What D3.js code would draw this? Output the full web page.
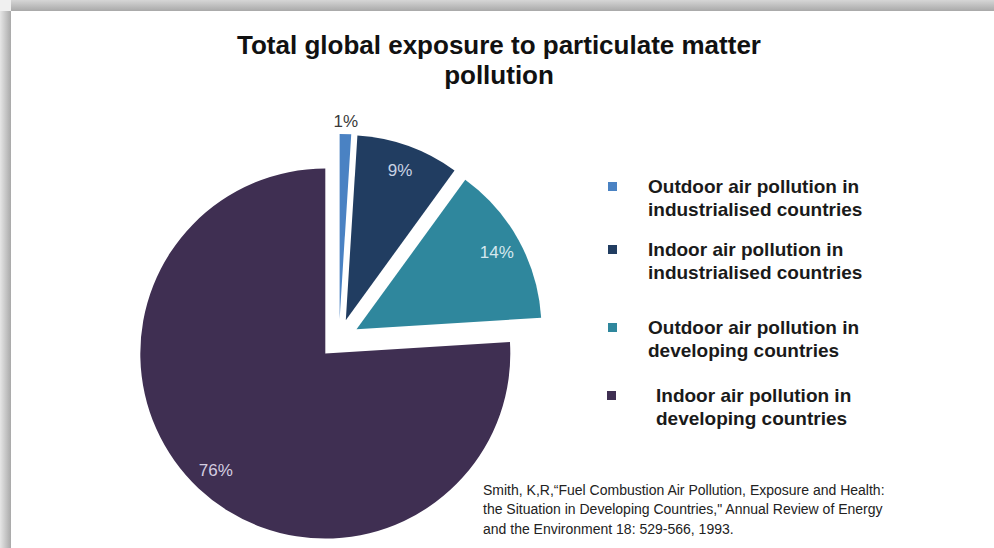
<!DOCTYPE html>
<html>
<head>
<meta charset="utf-8">
<script src="https://cdn.jsdelivr.net/npm/d3@7"></script>
<style>
  body { margin: 0; background: #fff; }
  text { font-family: "Liberation Sans", Arial, sans-serif; }
</style>
</head>
<body>
<div id="chart"></div>
<script>
// chart data
var categories = [
    "Outdoor air pollution in industrialised countries",
    "Indoor air pollution in industrialised countries",
    "Outdoor air pollution in developing countries",
    "Indoor air pollution in developing countries"
];
var legendLines = [
    ["Outdoor air pollution in", "industrialised countries"],
    ["Indoor air pollution in", "industrialised countries"],
    ["Outdoor air pollution in", "developing countries"],
    ["Indoor air pollution in", "developing countries"]
];
var values = [1, 9, 14, 76];
var valueLabels = ["1%", "9%", "14%", "76%"];
var titleLines = ["Total global exposure to particulate matter", "pollution"];
var sourceLines = [
    "Smith, K,R,\u201CFuel Combustion Air Pollution, Exposure and Health:",
    "the Situation in Developing Countries,\" Annual Review of Energy",
    "and the Environment 18: 529-566, 1993."
];

var colors = ["#4a82c3", "#213d61", "#2f879d", "#3f2f52"];
var labelColors = ["#3a3a3a", "#c9d3e4", "#d6e8ee", "#d4cde0"];

var width = 994, height = 548;
var cx = 339, cy = 339, radius = 185, explode = 20;

var svg = d3.select("#chart")
    .append("svg")
    .attr("width", width)
    .attr("height", height);

// frame shadow round the slide
var defs = svg.append("defs");
var gTop = defs.append("linearGradient").attr("id", "gTop")
    .attr("x1", 0).attr("y1", 0).attr("x2", 0).attr("y2", 1);
gTop.append("stop").attr("offset", "0%").attr("stop-color", "#d6d6d6");
gTop.append("stop").attr("offset", "100%").attr("stop-color", "#a9a9a9");
var gLeft = defs.append("linearGradient").attr("id", "gLeft")
    .attr("x1", 0).attr("y1", 0).attr("x2", 1).attr("y2", 0);
gLeft.append("stop").attr("offset", "0%").attr("stop-color", "#e6e6e6");
gLeft.append("stop").attr("offset", "100%").attr("stop-color", "#a9a9a9");

svg.append("rect").attr("x", 0).attr("y", 0).attr("width", width).attr("height", 11)
    .attr("fill", "url(#gTop)");
svg.append("rect").attr("x", 0).attr("y", 11).attr("width", 11).attr("height", height - 11)
    .attr("fill", "url(#gLeft)");
svg.append("rect").attr("x", 0).attr("y", 0).attr("width", 11).attr("height", 11)
    .attr("fill", "#f0f0f0");

// title
svg.selectAll(".title")
    .data(titleLines)
    .enter()
    .append("text")
    .attr("class", "title")
    .attr("x", 499)
    .attr("y", function (d, i) { return 54 + i * 30; })
    .attr("text-anchor", "middle")
    .style("font-size", "26px")
    .style("font-weight", "bold")
    .attr("fill", "#111")
    .text(function (d) { return d; });

// pie
var pie = d3.pie().sort(null).value(function (d) { return d; });
var arcs = pie(values);
var arc = d3.arc().innerRadius(0).outerRadius(radius);

function mid(d) { return (d.startAngle + d.endAngle) / 2; }

var g = svg.append("g").attr("transform", "translate(" + cx + "," + cy + ")");

g.selectAll("path")
    .data(arcs)
    .enter()
    .append("path")
    .attr("transform", function (d) {
        var a = mid(d);
        return "translate(" + (Math.sin(a) * explode) + "," + (-Math.cos(a) * explode) + ")";
    })
    .attr("d", arc)
    .attr("fill", function (d, i) { return colors[i]; });

g.selectAll(".lbl")
    .data(arcs)
    .enter()
    .append("text")
    .attr("class", "lbl")
    .attr("x", function (d) {
        var r = d.value < 5 ? 218 : 180;
        return Math.sin(mid(d)) * r;
    })
    .attr("y", function (d) {
        var r = d.value < 5 ? 218 : 180;
        return -Math.cos(mid(d)) * r;
    })
    .attr("dy", "0.35em")
    .attr("text-anchor", "middle")
    .style("font-size", "17px")
    .attr("fill", function (d, i) { return labelColors[i]; })
    .text(function (d, i) { return valueLabels[i]; });

// legend
var legendY = [186, 249, 327, 395];
var legendX = [648, 648, 648, 656];
var legend = svg.selectAll(".legend")
    .data(categories)
    .enter()
    .append("g")
    .attr("class", "legend");

legend.append("rect")
    .attr("x", function (d, i) { return i === 3 ? 607 : 608; })
    .attr("y", function (d, i) { return legendY[i] - 4; })
    .attr("width", 9)
    .attr("height", 9)
    .attr("fill", function (d, i) { return colors[i]; });

legend.each(function (d, i) {
    d3.select(this).selectAll("text")
        .data(legendLines[i])
        .enter()
        .append("text")
        .attr("x", legendX[i])
        .attr("y", function (t, j) { return legendY[i] + j * 23; })
        .attr("dy", "0.35em")
        .style("font-size", "19px")
        .style("font-weight", "bold")
        .attr("fill", "#1a1a1a")
        .text(function (t) { return t; });
});

// source note
svg.selectAll(".source")
    .data(sourceLines)
    .enter()
    .append("text")
    .attr("class", "source")
    .attr("x", 483)
    .attr("y", function (d, i) { return 490 + i * 19.5; })
    .attr("dy", "0.35em")
    .style("font-size", "14px")
    .attr("fill", "#222")
    .text(function (d) { return d; });
</script>
</body>
</html>
